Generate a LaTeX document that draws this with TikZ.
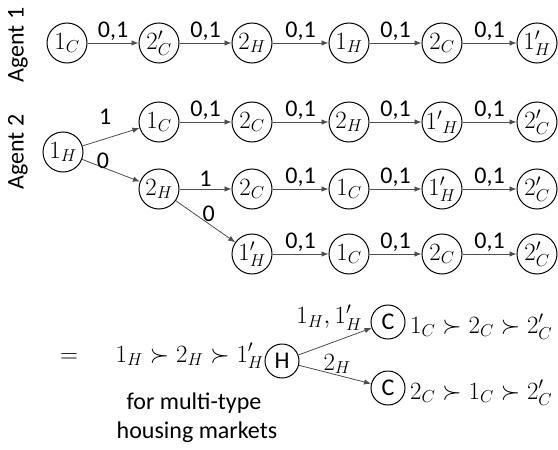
\documentclass[tikz,border=0pt]{standalone}
\usepackage[no-math]{fontspec}
\setmainfont{Carlito}
\usetikzlibrary{arrows.meta}
\begin{document}
\begin{tikzpicture}[x=1pt,y=-1pt,
  st/.style={circle,draw,line width=1pt,minimum size=40pt,inner sep=0pt,font=\fontsize{27}{31}\selectfont},
  sm/.style={circle,draw,line width=1pt,minimum size=34pt,inner sep=0pt,font=\fontsize{24}{28}\selectfont},
  ed/.style={line width=0.8pt,draw=black!70,-{Latex[length=7pt,width=5.5pt]}},
  lb/.style={font=\fontsize{24}{28}\selectfont,inner sep=2pt},
  ml/.style={font=\fontsize{27}{31}\selectfont,inner sep=0pt},
  tx/.style={font=\fontsize{24}{28}\selectfont,inner sep=0pt},
]
\useasboundingbox (0,0) rectangle (558,450);
% agent labels
\node[tx,rotate=90] (ag1) at (18,45) {Agent 1};
\node[tx,rotate=90] (ag2) at (18,152) {Agent 2};
% row 1
\node[st] (a1) at (67,43) {$1_C$};
\node[st] (a2) at (159,43) {$2'_C$};
\node[st] (a3) at (252,43) {$2_H$};
\node[st] (a4) at (349,43) {$1_H$};
\node[st] (a5) at (442,43) {$2_C$};
\node[st] (a6) at (537,43) {$1'_H$};
\foreach \p/\q in {a1/a2,a2/a3,a3/a4,a4/a5,a5/a6}
  \draw[ed] (\p) -- node[lb,above]{0,1} (\q);
% agent 2 tree
\node[st] (b0) at (63,152) {$1_H$};
\node[st] (b1) at (159,122) {$1_C$};
\node[st] (b2) at (252,122) {$2_C$};
\node[st] (b3) at (349,122) {$2_H$};
\node[st] (b4) at (442,122) {${1'}_H$};
\node[st] (b5) at (537,122) {$2'_C$};
\node[st] (c1) at (159,189) {$2_H$};
\node[st] (c2) at (252,189) {$2_C$};
\node[st] (c3) at (349,189) {$1_C$};
\node[st] (c4) at (442,189) {$1'_H$};
\node[st] (c5) at (537,189) {$2'_C$};
\node[st] (d1) at (252,254) {$1'_H$};
\node[st] (d2) at (349,254) {$1_C$};
\node[st] (d3) at (442,254) {$2_C$};
\node[st] (d4) at (537,254) {$2'_C$};
\draw[ed] (b0) -- node[lb,pos=0.4,yshift=22pt]{1} (b1);
\draw[ed] (b0) -- node[lb,pos=0.36,yshift=7pt]{0} (c1);
\draw[ed] (c1) -- node[lb,above]{1} (c2);
\draw[ed] (c1) -- node[lb,pos=0.52,yshift=9pt,xshift=2pt]{0} (d1);
\foreach \p/\q in {b1/b2,b2/b3,b3/b4,b4/b5,c2/c3,c3/c4,c4/c5,d1/d2,d2/d3,d3/d4}
  \draw[ed] (\p) -- node[lb,above]{0,1} (\q);
% bottom part
\node[ml,anchor=base] (eq) at (69,362) {$=$};
\node[ml,anchor=base east] (hp) at (264,362) {$1_H \succ 2_H \succ 1'_H$};
\node[sm] (H) at (282,361) {H};
\node[sm] (C1) at (388,322) {C};
\node[sm] (C2) at (388,388) {C};
\node[ml,anchor=base west] (cp1) at (410,333) {$1_C \succ 2_C \succ 2'_C$};
\node[ml,anchor=base west] (cp2) at (410,399) {$2_C \succ 1_C \succ 2'_C$};
\draw[ed] (H) -- node[ml,pos=0.42,yshift=26pt]{$1_H, 1'_H$} (C1);
\draw[ed] (H) -- node[ml,pos=0.53,yshift=11pt]{$2_H$} (C2);
\node[tx,anchor=base] (t1) at (194,409) {for multi-type};
\node[tx,anchor=base] (t2) at (197,438) {housing markets};
\end{tikzpicture}
\end{document}
